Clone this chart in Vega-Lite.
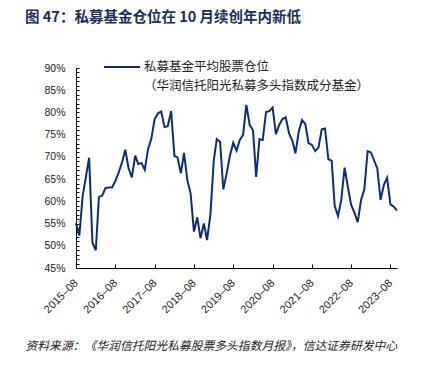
{
  "$schema": "https://vega.github.io/schema/vega-lite/v6.json",
  "width": 321,
  "height": 200,
  "autosize": {"type": "none"},
  "padding": {"left": 76, "top": 68, "right": 35, "bottom": 104},
  "background": "white",
  "title": {
    "text": "图 47：私募基金仓位在 10 月续创年内新低",
    "anchor": "start",
    "frame": "group",
    "dx": -51,
    "dy": -36,
    "offset": 0,
    "font": "Noto Sans CJK SC",
    "fontSize": 14.5,
    "fontWeight": "bold",
    "color": "#1E2D5C"
  },
  "config": {"view": {"stroke": null}},
  "data": {
    "values": [
      {"date": "2015-08-01", "v": 55.0, "s": "私募基金平均股票仓位"},
      {"date": "2015-09-01", "v": 52.3, "s": "私募基金平均股票仓位"},
      {"date": "2015-10-01", "v": 61.0, "s": "私募基金平均股票仓位"},
      {"date": "2015-11-01", "v": 65.5, "s": "私募基金平均股票仓位"},
      {"date": "2015-12-01", "v": 69.8, "s": "私募基金平均股票仓位"},
      {"date": "2016-01-01", "v": 50.7, "s": "私募基金平均股票仓位"},
      {"date": "2016-02-01", "v": 49.0, "s": "私募基金平均股票仓位"},
      {"date": "2016-03-01", "v": 61.0, "s": "私募基金平均股票仓位"},
      {"date": "2016-04-01", "v": 61.3, "s": "私募基金平均股票仓位"},
      {"date": "2016-05-01", "v": 63.0, "s": "私募基金平均股票仓位"},
      {"date": "2016-06-01", "v": 63.1, "s": "私募基金平均股票仓位"},
      {"date": "2016-07-01", "v": 63.1, "s": "私募基金平均股票仓位"},
      {"date": "2016-08-01", "v": 64.6, "s": "私募基金平均股票仓位"},
      {"date": "2016-09-01", "v": 66.5, "s": "私募基金平均股票仓位"},
      {"date": "2016-10-01", "v": 68.7, "s": "私募基金平均股票仓位"},
      {"date": "2016-11-01", "v": 71.6, "s": "私募基金平均股票仓位"},
      {"date": "2016-12-01", "v": 67.5, "s": "私募基金平均股票仓位"},
      {"date": "2017-01-01", "v": 65.4, "s": "私募基金平均股票仓位"},
      {"date": "2017-02-01", "v": 70.3, "s": "私募基金平均股票仓位"},
      {"date": "2017-03-01", "v": 68.4, "s": "私募基金平均股票仓位"},
      {"date": "2017-04-01", "v": 68.6, "s": "私募基金平均股票仓位"},
      {"date": "2017-05-01", "v": 67.1, "s": "私募基金平均股票仓位"},
      {"date": "2017-06-01", "v": 71.8, "s": "私募基金平均股票仓位"},
      {"date": "2017-07-01", "v": 74.1, "s": "私募基金平均股票仓位"},
      {"date": "2017-08-01", "v": 78.5, "s": "私募基金平均股票仓位"},
      {"date": "2017-09-01", "v": 79.8, "s": "私募基金平均股票仓位"},
      {"date": "2017-10-01", "v": 80.2, "s": "私募基金平均股票仓位"},
      {"date": "2017-11-01", "v": 76.7, "s": "私募基金平均股票仓位"},
      {"date": "2017-12-01", "v": 76.9, "s": "私募基金平均股票仓位"},
      {"date": "2018-01-01", "v": 80.3, "s": "私募基金平均股票仓位"},
      {"date": "2018-02-01", "v": 70.2, "s": "私募基金平均股票仓位"},
      {"date": "2018-03-01", "v": 69.9, "s": "私募基金平均股票仓位"},
      {"date": "2018-04-01", "v": 66.3, "s": "私募基金平均股票仓位"},
      {"date": "2018-05-01", "v": 70.9, "s": "私募基金平均股票仓位"},
      {"date": "2018-06-01", "v": 64.7, "s": "私募基金平均股票仓位"},
      {"date": "2018-07-01", "v": 61.8, "s": "私募基金平均股票仓位"},
      {"date": "2018-08-01", "v": 53.2, "s": "私募基金平均股票仓位"},
      {"date": "2018-09-01", "v": 56.4, "s": "私募基金平均股票仓位"},
      {"date": "2018-10-01", "v": 51.7, "s": "私募基金平均股票仓位"},
      {"date": "2018-11-01", "v": 55.0, "s": "私募基金平均股票仓位"},
      {"date": "2018-12-01", "v": 51.3, "s": "私募基金平均股票仓位"},
      {"date": "2019-01-01", "v": 57.0, "s": "私募基金平均股票仓位"},
      {"date": "2019-02-01", "v": 69.1, "s": "私募基金平均股票仓位"},
      {"date": "2019-03-01", "v": 74.0, "s": "私募基金平均股票仓位"},
      {"date": "2019-04-01", "v": 73.4, "s": "私募基金平均股票仓位"},
      {"date": "2019-05-01", "v": 62.7, "s": "私募基金平均股票仓位"},
      {"date": "2019-06-01", "v": 66.3, "s": "私募基金平均股票仓位"},
      {"date": "2019-07-01", "v": 70.2, "s": "私募基金平均股票仓位"},
      {"date": "2019-08-01", "v": 73.2, "s": "私募基金平均股票仓位"},
      {"date": "2019-09-01", "v": 71.4, "s": "私募基金平均股票仓位"},
      {"date": "2019-10-01", "v": 73.8, "s": "私募基金平均股票仓位"},
      {"date": "2019-11-01", "v": 75.0, "s": "私募基金平均股票仓位"},
      {"date": "2019-12-01", "v": 81.7, "s": "私募基金平均股票仓位"},
      {"date": "2020-01-01", "v": 77.2, "s": "私募基金平均股票仓位"},
      {"date": "2020-02-01", "v": 76.0, "s": "私募基金平均股票仓位"},
      {"date": "2020-03-01", "v": 65.5, "s": "私募基金平均股票仓位"},
      {"date": "2020-04-01", "v": 74.0, "s": "私募基金平均股票仓位"},
      {"date": "2020-05-01", "v": 73.8, "s": "私募基金平均股票仓位"},
      {"date": "2020-06-01", "v": 80.1, "s": "私募基金平均股票仓位"},
      {"date": "2020-07-01", "v": 80.3, "s": "私募基金平均股票仓位"},
      {"date": "2020-08-01", "v": 81.1, "s": "私募基金平均股票仓位"},
      {"date": "2020-09-01", "v": 75.1, "s": "私募基金平均股票仓位"},
      {"date": "2020-10-01", "v": 77.2, "s": "私募基金平均股票仓位"},
      {"date": "2020-11-01", "v": 78.5, "s": "私募基金平均股票仓位"},
      {"date": "2020-12-01", "v": 78.9, "s": "私募基金平均股票仓位"},
      {"date": "2021-01-01", "v": 75.3, "s": "私募基金平均股票仓位"},
      {"date": "2021-02-01", "v": 73.6, "s": "私募基金平均股票仓位"},
      {"date": "2021-03-01", "v": 70.8, "s": "私募基金平均股票仓位"},
      {"date": "2021-04-01", "v": 75.7, "s": "私募基金平均股票仓位"},
      {"date": "2021-05-01", "v": 78.3, "s": "私募基金平均股票仓位"},
      {"date": "2021-06-01", "v": 77.4, "s": "私募基金平均股票仓位"},
      {"date": "2021-07-01", "v": 73.1, "s": "私募基金平均股票仓位"},
      {"date": "2021-08-01", "v": 72.7, "s": "私募基金平均股票仓位"},
      {"date": "2021-09-01", "v": 71.3, "s": "私募基金平均股票仓位"},
      {"date": "2021-10-01", "v": 72.1, "s": "私募基金平均股票仓位"},
      {"date": "2021-11-01", "v": 76.2, "s": "私募基金平均股票仓位"},
      {"date": "2021-12-01", "v": 76.4, "s": "私募基金平均股票仓位"},
      {"date": "2022-01-01", "v": 69.5, "s": "私募基金平均股票仓位"},
      {"date": "2022-02-01", "v": 69.1, "s": "私募基金平均股票仓位"},
      {"date": "2022-03-01", "v": 59.0, "s": "私募基金平均股票仓位"},
      {"date": "2022-04-01", "v": 56.7, "s": "私募基金平均股票仓位"},
      {"date": "2022-05-01", "v": 60.3, "s": "私募基金平均股票仓位"},
      {"date": "2022-06-01", "v": 67.6, "s": "私募基金平均股票仓位"},
      {"date": "2022-07-01", "v": 63.3, "s": "私募基金平均股票仓位"},
      {"date": "2022-08-01", "v": 59.2, "s": "私募基金平均股票仓位"},
      {"date": "2022-09-01", "v": 57.4, "s": "私募基金平均股票仓位"},
      {"date": "2022-10-01", "v": 55.3, "s": "私募基金平均股票仓位"},
      {"date": "2022-11-01", "v": 60.3, "s": "私募基金平均股票仓位"},
      {"date": "2022-12-01", "v": 62.6, "s": "私募基金平均股票仓位"},
      {"date": "2023-01-01", "v": 71.3, "s": "私募基金平均股票仓位"},
      {"date": "2023-02-01", "v": 71.0, "s": "私募基金平均股票仓位"},
      {"date": "2023-03-01", "v": 69.3, "s": "私募基金平均股票仓位"},
      {"date": "2023-04-01", "v": 67.4, "s": "私募基金平均股票仓位"},
      {"date": "2023-05-01", "v": 60.3, "s": "私募基金平均股票仓位"},
      {"date": "2023-06-01", "v": 63.7, "s": "私募基金平均股票仓位"},
      {"date": "2023-07-01", "v": 65.3, "s": "私募基金平均股票仓位"},
      {"date": "2023-08-01", "v": 59.3, "s": "私募基金平均股票仓位"},
      {"date": "2023-09-01", "v": 58.8, "s": "私募基金平均股票仓位"},
      {"date": "2023-10-01", "v": 57.9, "s": "私募基金平均股票仓位"}
    ]
  },
  "mark": {"type": "line", "strokeWidth": 2},
  "encoding": {
    "x": {
      "field": "date",
      "type": "temporal",
      "scale": {"domain": [{"year": 2015, "month": 8, "date": 1}, {"year": 2023, "month": 10, "date": 1}]},
      "axis": {
        "values": [
          {"year": 2015, "month": 8, "date": 1},
          {"year": 2016, "month": 8, "date": 1},
          {"year": 2017, "month": 8, "date": 1},
          {"year": 2018, "month": 8, "date": 1},
          {"year": 2019, "month": 8, "date": 1},
          {"year": 2020, "month": 8, "date": 1},
          {"year": 2021, "month": 8, "date": 1},
          {"year": 2022, "month": 8, "date": 1},
          {"year": 2023, "month": 8, "date": 1}
        ],
        "format": "%Y–%m",
        "labelAngle": -45,
        "labelAlign": "right",
        "labelBaseline": "middle",
        "labelPadding": 17,
        "labelFlush": false,
        "labelOverlap": false,
        "labelFont": "Liberation Sans",
        "labelFontSize": 11,
        "labelColor": "#222222",
        "tickSize": -4,
        "tickColor": "#000000",
        "domainColor": "#000000",
        "grid": false,
        "title": "资料来源：《华润信托阳光私募股票多头指数月报》，信达证券研发中心",
        "titleX": -51,
        "titleY": 77,
        "titleAlign": "left",
        "titleBaseline": "middle",
        "titleAngle": 0,
        "titleFont": "Noto Sans CJK SC",
        "titleFontSize": 11.8,
        "titleFontStyle": "italic",
        "titleFontWeight": "normal",
        "titleColor": "#222222"
      }
    },
    "y": {
      "field": "v",
      "type": "quantitative",
      "scale": {"domain": [45, 90], "nice": false, "zero": false},
      "axis": {
        "values": [45,46,47,48,49,50,51,52,53,54,55,56,57,58,59,60,61,62,63,64,65,66,67,68,69,70,71,72,73,74,75,76,77,78,79,80,81,82,83,84,85,86,87,88,89,90],
        "labelExpr": "datum.value % 5 === 0 ? datum.value + '%' : ''",
        "labelOverlap": false,
        "labelFlush": false,
        "labelPadding": 14,
        "labelFont": "Liberation Sans",
        "labelFontSize": 10.5,
        "labelColor": "#222222",
        "tickSize": -3,
        "tickColor": "#000000",
        "domainColor": "#000000",
        "grid": false,
        "title": null
      }
    },
    "color": {
      "field": "s",
      "type": "nominal",
      "scale": {
        "domain": ["私募基金平均股票仓位", "（华润信托阳光私募多头指数成分基金）"],
        "range": ["#0B2D7A", "transparent"]
      },
      "legend": {
        "orient": "none",
        "legendX": 27,
        "legendY": -7,
        "padding": 0,
        "title": null,
        "symbolType": "stroke",
        "symbolSize": 1296,
        "symbolStrokeWidth": 2,
        "clipHeight": 12,
        "rowPadding": 6,
        "labelOffset": 3,
        "labelLimit": 400,
        "labelFont": "Noto Sans CJK SC",
        "labelFontSize": 12.5,
        "labelColor": "#222222"
      }
    }
  }
}
